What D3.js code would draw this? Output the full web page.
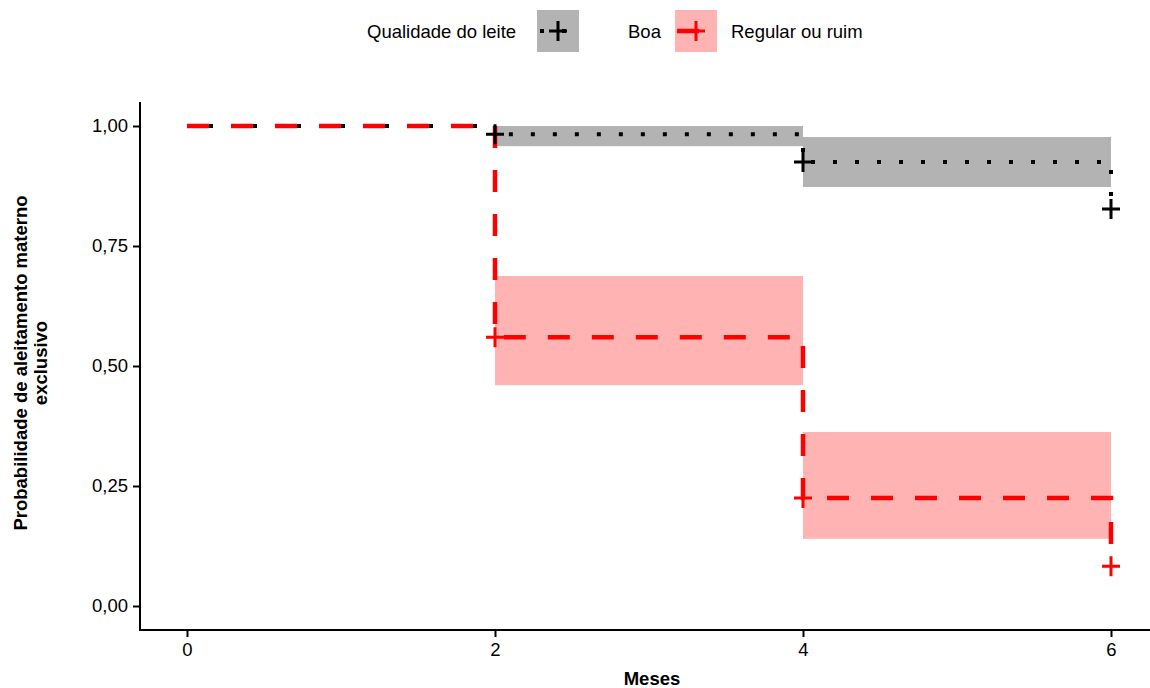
<!DOCTYPE html>
<html>
<head>
<meta charset="utf-8">
<script src="https://cdn.jsdelivr.net/npm/d3@7"></script>
<style>
  body { margin: 0; background: #fff; }
  text { font-family: "Liberation Sans", Arial, sans-serif; }
</style>
</head>
<body>
<div id="chart"></div>
<script>
// survival curves
const times = [0, 2, 4, 6];
const groups = ['Boa', 'Regular ou ruim'];
const boaSurv = [1, 0.983, 0.925, 0.827];
const boaUpper = [1, 1.0, 0.977];
const boaLower = [1, 0.958, 0.873];
const ruimSurv = [1, 0.56, 0.225, 0.083];
const ruimUpper = [1, 0.6875, 0.3625];
const ruimLower = [1, 0.46, 0.14];
const censorTimes = [2, 4, 6];
const xTicks = [0, 2, 4, 6];
const yTicks = [0, 0.25, 0.5, 0.75, 1];

const W = 1150, H = 688;
const svg = d3.select('#chart').append('svg').attr('width', W).attr('height', H);

const x = d3.scaleLinear().domain([-0.3, 6.3]).range([140.8, 1157.2]);
const y = d3.scaleLinear().domain([-0.05, 1.05]).range([630, 102]);

const series = [
  {name: groups[0], surv: boaSurv, up: boaUpper, lo: boaLower, color: '#000', fill: '#b3b3b3', width: 4, dash: '4 18'},
  {name: groups[1], surv: ruimSurv, up: ruimUpper, lo: ruimLower, color: '#ff0000', fill: '#ffb3b3', width: 4.5, dash: '22 22'}
];

const plot = svg.append('g');

// confidence bands
series.forEach(s => {
  plot.selectAll(null).data(s.up).enter().append('rect')
    .attr('x', (d, i) => x(times[i]))
    .attr('width', (d, i) => x(times[i + 1]) - x(times[i]))
    .attr('y', d => y(d))
    .attr('height', (d, i) => y(s.lo[i]) - y(d))
    .attr('fill', s.fill);
});

// step lines
const line = d3.line().x(d => x(d[0])).y(d => y(d[1])).curve(d3.curveStepAfter);
series.forEach(s => {
  plot.append('path')
    .attr('d', line(times.map((t, i) => [t, s.surv[i]])))
    .attr('fill', 'none')
    .attr('stroke', s.color)
    .attr('stroke-width', s.width)
    .attr('stroke-dasharray', s.dash)
    .attr('stroke-linecap', 'butt');
});

// censor marks
const plus = 'M-9,0H9M0,-10V10';
series.forEach(s => {
  plot.selectAll(null).data(censorTimes).enter().append('path')
    .attr('d', plus)
    .attr('transform', d => `translate(${x(d)},${y(s.surv[times.indexOf(d)])})`)
    .attr('stroke', s.color)
    .attr('stroke-width', 3)
    .attr('fill', 'none');
});

// axes
const xAxis = svg.append('g').attr('transform', 'translate(0,630)')
  .call(d3.axisBottom(x).tickValues(xTicks).tickSize(7).tickPadding(6).tickFormat(d3.format('d')));
const yAxis = svg.append('g').attr('transform', 'translate(140,0)')
  .call(d3.axisLeft(y).tickValues(yTicks).tickSize(7).tickPadding(5)
    .tickFormat(d => d.toFixed(2).replace('.', ',')));
[xAxis, yAxis].forEach(a => {
  a.select('.domain').attr('stroke', '#000').attr('stroke-width', 2);
  a.selectAll('.tick line').attr('stroke', '#000').attr('stroke-width', 2);
  a.selectAll('.tick text').attr('fill', '#000').style('font-size', '18.5px');
});
xAxis.select('.domain').attr('d', 'M139,0H1150');
yAxis.select('.domain').attr('d', 'M0,102V631');

svg.append('text').attr('x', 652).attr('y', 685).attr('text-anchor', 'middle')
  .style('font-size', '18.5px').style('font-weight', 'bold').text('Meses');

const yt = svg.append('text').attr('transform', 'translate(0,363) rotate(-90)')
  .attr('text-anchor', 'middle').style('font-size', '18.5px').style('font-weight', 'bold');
yt.append('tspan').attr('x', 0).attr('y', 27).text('Probabilidade de aleitamento materno');
yt.append('tspan').attr('x', 0).attr('y', 47).text('exclusivo');

// legend
const leg = svg.append('g');
leg.append('text').attr('x', 367).attr('y', 38).style('font-size', '18.5px').text('Qualidade do leite');
const keys = [
  {x0: 537, lx: 540},
  {x0: 675, lx: 677}
];
series.forEach((s, i) => {
  const k = keys[i];
  leg.append('rect').attr('x', k.x0).attr('y', 10).attr('width', 42).attr('height', 42).attr('fill', s.fill);
  leg.append('line').attr('x1', k.lx).attr('x2', k.x0 + 42).attr('y1', 31).attr('y2', 31)
    .attr('stroke', s.color).attr('stroke-width', s.width).attr('stroke-dasharray', s.dash);
  leg.append('path').attr('d', plus).attr('transform', `translate(${k.x0 + 21},31)`)
    .attr('stroke', s.color).attr('stroke-width', 3).attr('fill', 'none');
  leg.append('text').attr('x', i === 0 ? k.x0 + 91 : k.x0 + 56).attr('y', 38).style('font-size', '18.5px').text(s.name);
});
</script>
</body>
</html>
